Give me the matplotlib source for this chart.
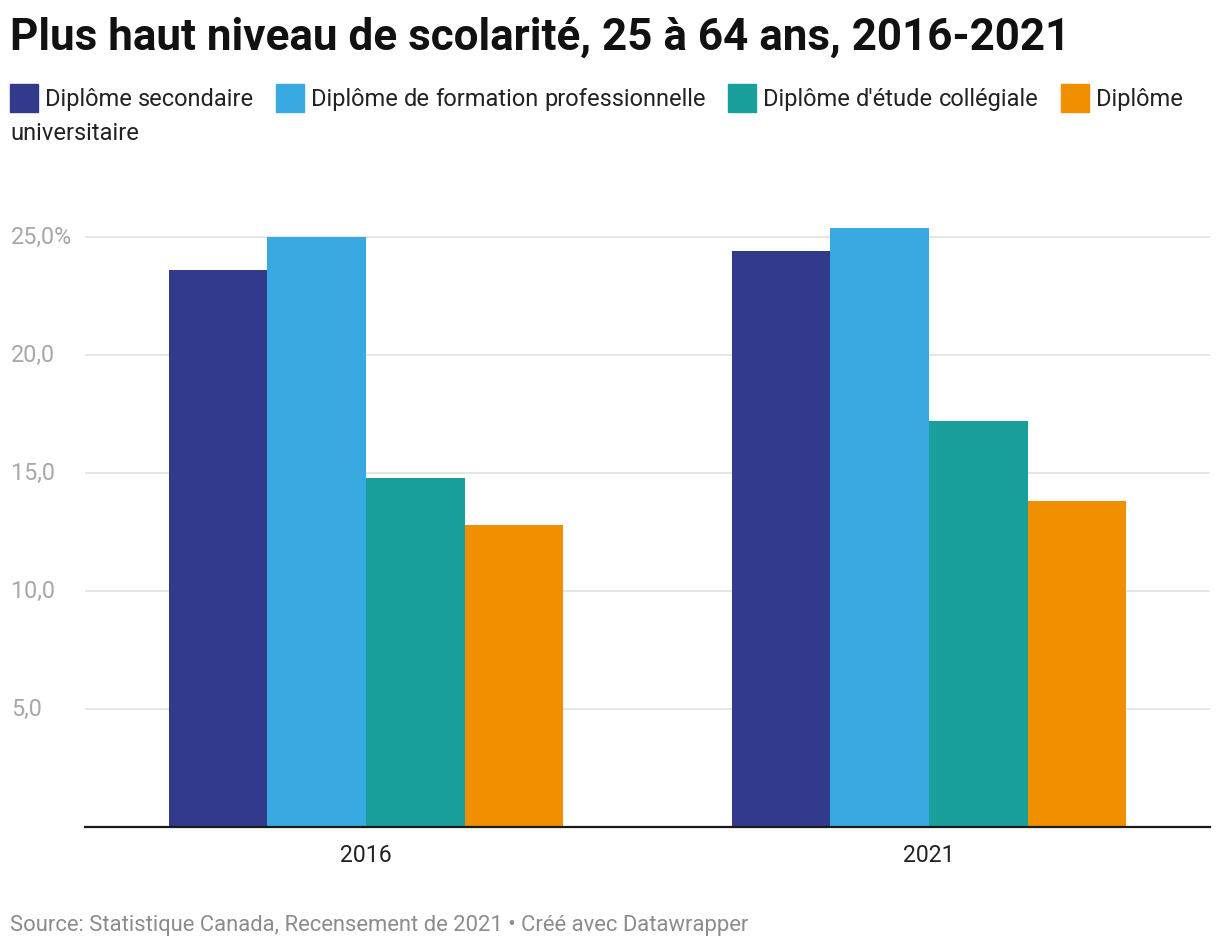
import matplotlib.pyplot as plt
from matplotlib.patches import Rectangle

plt.rcParams['font.family'] = ['Roboto', 'DejaVu Sans']

years = ['2016', '2021']
series = ['Diplôme secondaire', 'Diplôme de formation professionnelle',
          "Diplôme d'étude collégiale", 'Diplôme universitaire']
secondaire = [23.6, 24.4]
professionnelle = [25.0, 25.4]
collegiale = [14.8, 17.2]
universitaire = [12.8, 13.8]
colors = ['#323b8b', '#38a9e1', '#19a09c', '#f08f00']
yticks = [5, 10, 15, 20, 25]
ylabels = ['5,0', '10,0', '15,0', '20,0', '25,0%']

W, H = 1220, 950
fig = plt.figure(figsize=(W / 100, H / 100), dpi=100)


def fx(x):
    return x / W


def fy(y):
    return 1 - y / H


ax = fig.add_axes([fx(85), fy(827), (1210 - 85) / W, (827 - 190) / H])
values = [secondaire, professionnelle, collegiale, universitaire]
width = 0.175
for i, (vals, c) in enumerate(zip(values, colors)):
    offs = (i - 1.5) * width
    ax.bar([x + offs for x in range(len(years))], vals, width, color=c, zorder=2)

ax.set_xlim(-0.499, 1.499)
ax.set_ylim(0, 27)
ax.set_yticks(yticks)
ax.set_yticklabels(ylabels)
ax.yaxis.grid(color='#e1e1e1', lw=1.2, zorder=0)
for s in ['top', 'right', 'left']:
    ax.spines[s].set_visible(False)
ax.spines['bottom'].set_color('#1a1a1a')
ax.spines['bottom'].set_linewidth(1.6)
ax.spines['bottom'].set_zorder(3)
# labels y alignes a gauche a x=10
ax.tick_params(axis='y', length=0, pad=(85 - 11) * 0.72, labelsize=16.8, labelcolor='#a8a8a8')
for lab in ax.get_yticklabels():
    lab.set_horizontalalignment('left')
    lab.set_verticalalignment('center')
ax.set_xticks(range(len(years)))
ax.set_xticklabels(years)
ax.tick_params(axis='x', length=0, pad=12, labelsize=16.6, labelcolor='#222222')

fig.text(fx(10), fy(50), 'Plus haut niveau de scolarité, 25 à 64 ans, 2016-2021',
         fontsize=31.7, fontweight='bold', color='#111111', va='baseline')

# legende avec retour a la ligne comme datawrapper
fig.canvas.draw()
r = fig.canvas.get_renderer()
leg_kw = dict(fontsize=17, color='#222222', va='baseline')
sp = fig.text(0, 0, 'a a', **leg_kw)
sp_w = sp.get_window_extent(r).width
a = fig.text(0, 0, 'a', **leg_kw)
sp_w -= 2 * a.get_window_extent(r).width
sp.remove()
a.remove()

x, y = 10, 106
right = 1210
for name, c in zip(series, colors):
    words = name.split(' ')
    first = fig.text(0, 0, words[0], **leg_kw)
    w0 = first.get_window_extent(r).width
    first.remove()
    if x + 35 + w0 > right:
        x, y = 10, y + 34
    fig.patches.append(Rectangle((fx(x), fy(y + 6)), 28 / W, 28 / H,
                                 transform=fig.transFigure, color=c))
    x += 35
    for j, wd in enumerate(words):
        t = fig.text(0, 0, wd, **leg_kw)
        ww = t.get_window_extent(r).width
        if j > 0:
            if x + sp_w + ww > right:
                x, y = 10, y + 34
            else:
                x += sp_w
        t.set_position((fx(x), fy(y)))
        x += ww
    x += 22

fig.text(fx(10), fy(931), 'Source: Statistique Canada, Recensement de 2021 • Créé avec Datawrapper',
         fontsize=15.8, color='#8c8c8c', va='baseline')

fig.savefig('out.png', dpi=100)
